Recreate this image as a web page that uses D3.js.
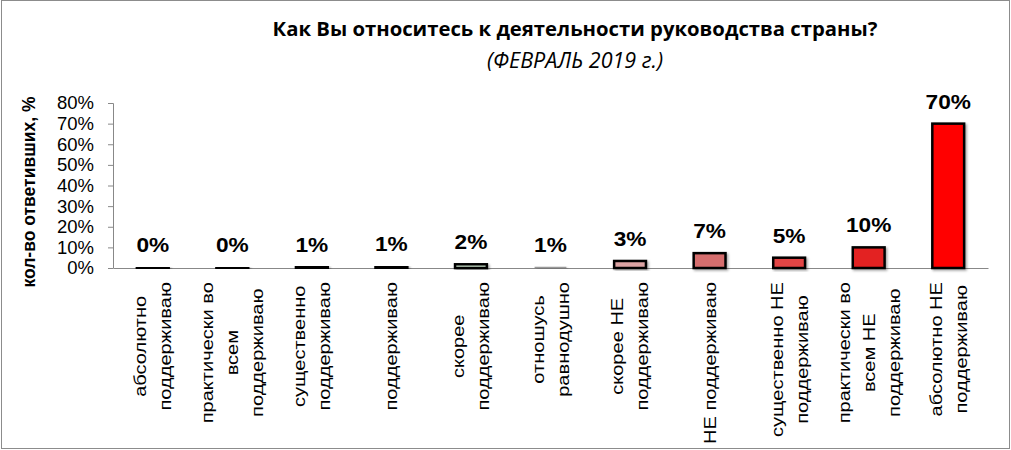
<!DOCTYPE html>
<html><head><meta charset="utf-8">
<script src="https://cdn.jsdelivr.net/npm/d3@7"></script>
<style>body{margin:0;background:#fff}</style>
</head><body>
<svg id="c" width="1011" height="450"></svg>
<script>
const categories = [
  ["абсолютно","поддерживаю"],
  ["практически во","всем","поддерживаю"],
  ["существенно","поддерживаю"],
  ["поддерживаю"],
  ["скорее","поддерживаю"],
  ["отношусь","равнодушно"],
  ["скорее НЕ","поддерживаю"],
  ["НЕ поддерживаю"],
  ["существенно НЕ","поддерживаю"],
  ["практически во","всем НЕ","поддерживаю"],
  ["абсолютно НЕ","поддерживаю"]
];
const values = [0.3, 0.3, 0.6, 0.8, 1.8, 0.6, 3.4, 7.2, 5.0, 10.0, 70.0];
const barColors = ["#000000","#000000","#000000","#000000","#cfe8cf","#999999","#dba3a3","#d66e6e","#e24444","#e32222","#ff0000"];
const barStroke = [true,true,true,true,true,false,true,true,true,true,true];
const yTicks = [0,10,20,30,40,50,60,70,80];
const title = "Как Вы относитесь к деятельности руководства страны?";
const subtitle = "(ФЕВРАЛЬ 2019 г.)";
const yTitle = "кол-во ответивших, %";

const svg = d3.select("#c");
const defs = svg.append("defs");
const f = defs.append("filter").attr("id","sh").attr("x","-20%").attr("y","-20%").attr("width","150%").attr("height","150%");
f.append("feDropShadow").attr("dx",1.5).attr("dy",1.5).attr("stdDeviation",1.2).attr("flood-color","#000").attr("flood-opacity",0.35);

svg.append("rect").attr("x",1.5).attr("y",0.5).attr("width",1008).attr("height",448)
  .attr("fill","#fff").attr("stroke","#8c8c8c");

const L = 113, R = 988, T = 103, B = 268;
const x = d3.scaleBand().domain(d3.range(categories.length)).range([L,R]).paddingInner(0.6).paddingOuter(0.3);
const y = d3.scaleLinear().domain([0,80]).range([B,T]);

// title
svg.append("text").attr("x",575).attr("y",36).attr("text-anchor","middle")
  .attr("font-family","'Open Sans',sans-serif").attr("font-weight","bold")
  .attr("font-size",20.3).attr("fill","#000").text(title);
svg.append("text").attr("x",575).attr("y",68).attr("text-anchor","middle")
  .attr("font-family","'Open Sans',sans-serif").attr("font-style","italic")
  .attr("font-size",21.5).attr("fill","#000").text(subtitle);

// y axis
const ya = svg.append("g").attr("transform",`translate(${L},0)`)
  .call(d3.axisLeft(y).tickValues(yTicks).tickFormat(d=>d+"%").tickSize(5).tickPadding(14));
ya.select(".domain").attr("stroke","#888").attr("d",`M-5,${T}.5H0.5V${B}.5`);
ya.selectAll(".tick line").attr("stroke","#888");
ya.selectAll(".tick text").attr("font-family","'Liberation Sans',Arial,sans-serif").attr("font-size",18.5).attr("fill","#000");

// x axis line
const xa = svg.append("g").attr("transform",`translate(0,${B})`)
  .call(d3.axisBottom(x).tickSize(0).tickFormat(""));
xa.select(".domain").attr("stroke","#888");

// y title
svg.append("text").attr("transform",`translate(35,${192}) rotate(-90)`).attr("text-anchor","middle")
  .attr("font-family","'Liberation Sans',Arial,sans-serif").attr("font-weight","bold")
  .attr("font-size",17.5).attr("fill","#000").text(yTitle);

// bars
svg.append("g").selectAll("rect").data(values).join("rect")
  .attr("x",(d,i)=>x(i)).attr("width",x.bandwidth())
  .attr("y",d=>y(d)).attr("height",d=>B-y(d))
  .attr("fill",(d,i)=>barColors[i])
  .attr("stroke",(d,i)=>barStroke[i]?"#000":"none").attr("stroke-width",2.5)
  .attr("filter","url(#sh)");

// value labels
svg.append("g").selectAll("text").data(values).join("text")
  .attr("x",(d,i)=>x(i)+x.bandwidth()/2).attr("y",d=>y(d)-15)
  .attr("text-anchor","middle").attr("font-family","'Liberation Sans',Arial,sans-serif")
  .attr("font-weight","bold").attr("font-size",21).attr("fill","#000")
  .attr("transform",(d,i)=>{const cx=x(i)+x.bandwidth()/2; return `translate(${cx},0) scale(1.08,1) translate(${-cx},0)`;})
  .text(d=>Math.round(d)+"%");

// category labels
const lh = 25, sx = 1.18;
const cg = svg.append("g").selectAll("g").data(categories).join("g")
  .attr("transform",(d,i)=>`translate(${x(i)+x.bandwidth()/2},${B+14})`);
cg.each(function(lines){
  const g = d3.select(this);
  const t = g.selectAll("text").data(lines).join("text")
    .attr("font-family","'Liberation Sans',Arial,sans-serif").attr("font-size",17).attr("fill","#000")
    .attr("dominant-baseline","central").attr("text-anchor","middle")
    .text(d=>d);
  let maxW = 0; t.each(function(){maxW = Math.max(maxW, this.getComputedTextLength());});
  const n = lines.length;
  t.attr("transform",(d,k)=>`translate(${(k-(n-1)/2)*lh},${maxW*sx/2}) rotate(-90) scale(${sx},1)`);
});
</script>
</body></html>
